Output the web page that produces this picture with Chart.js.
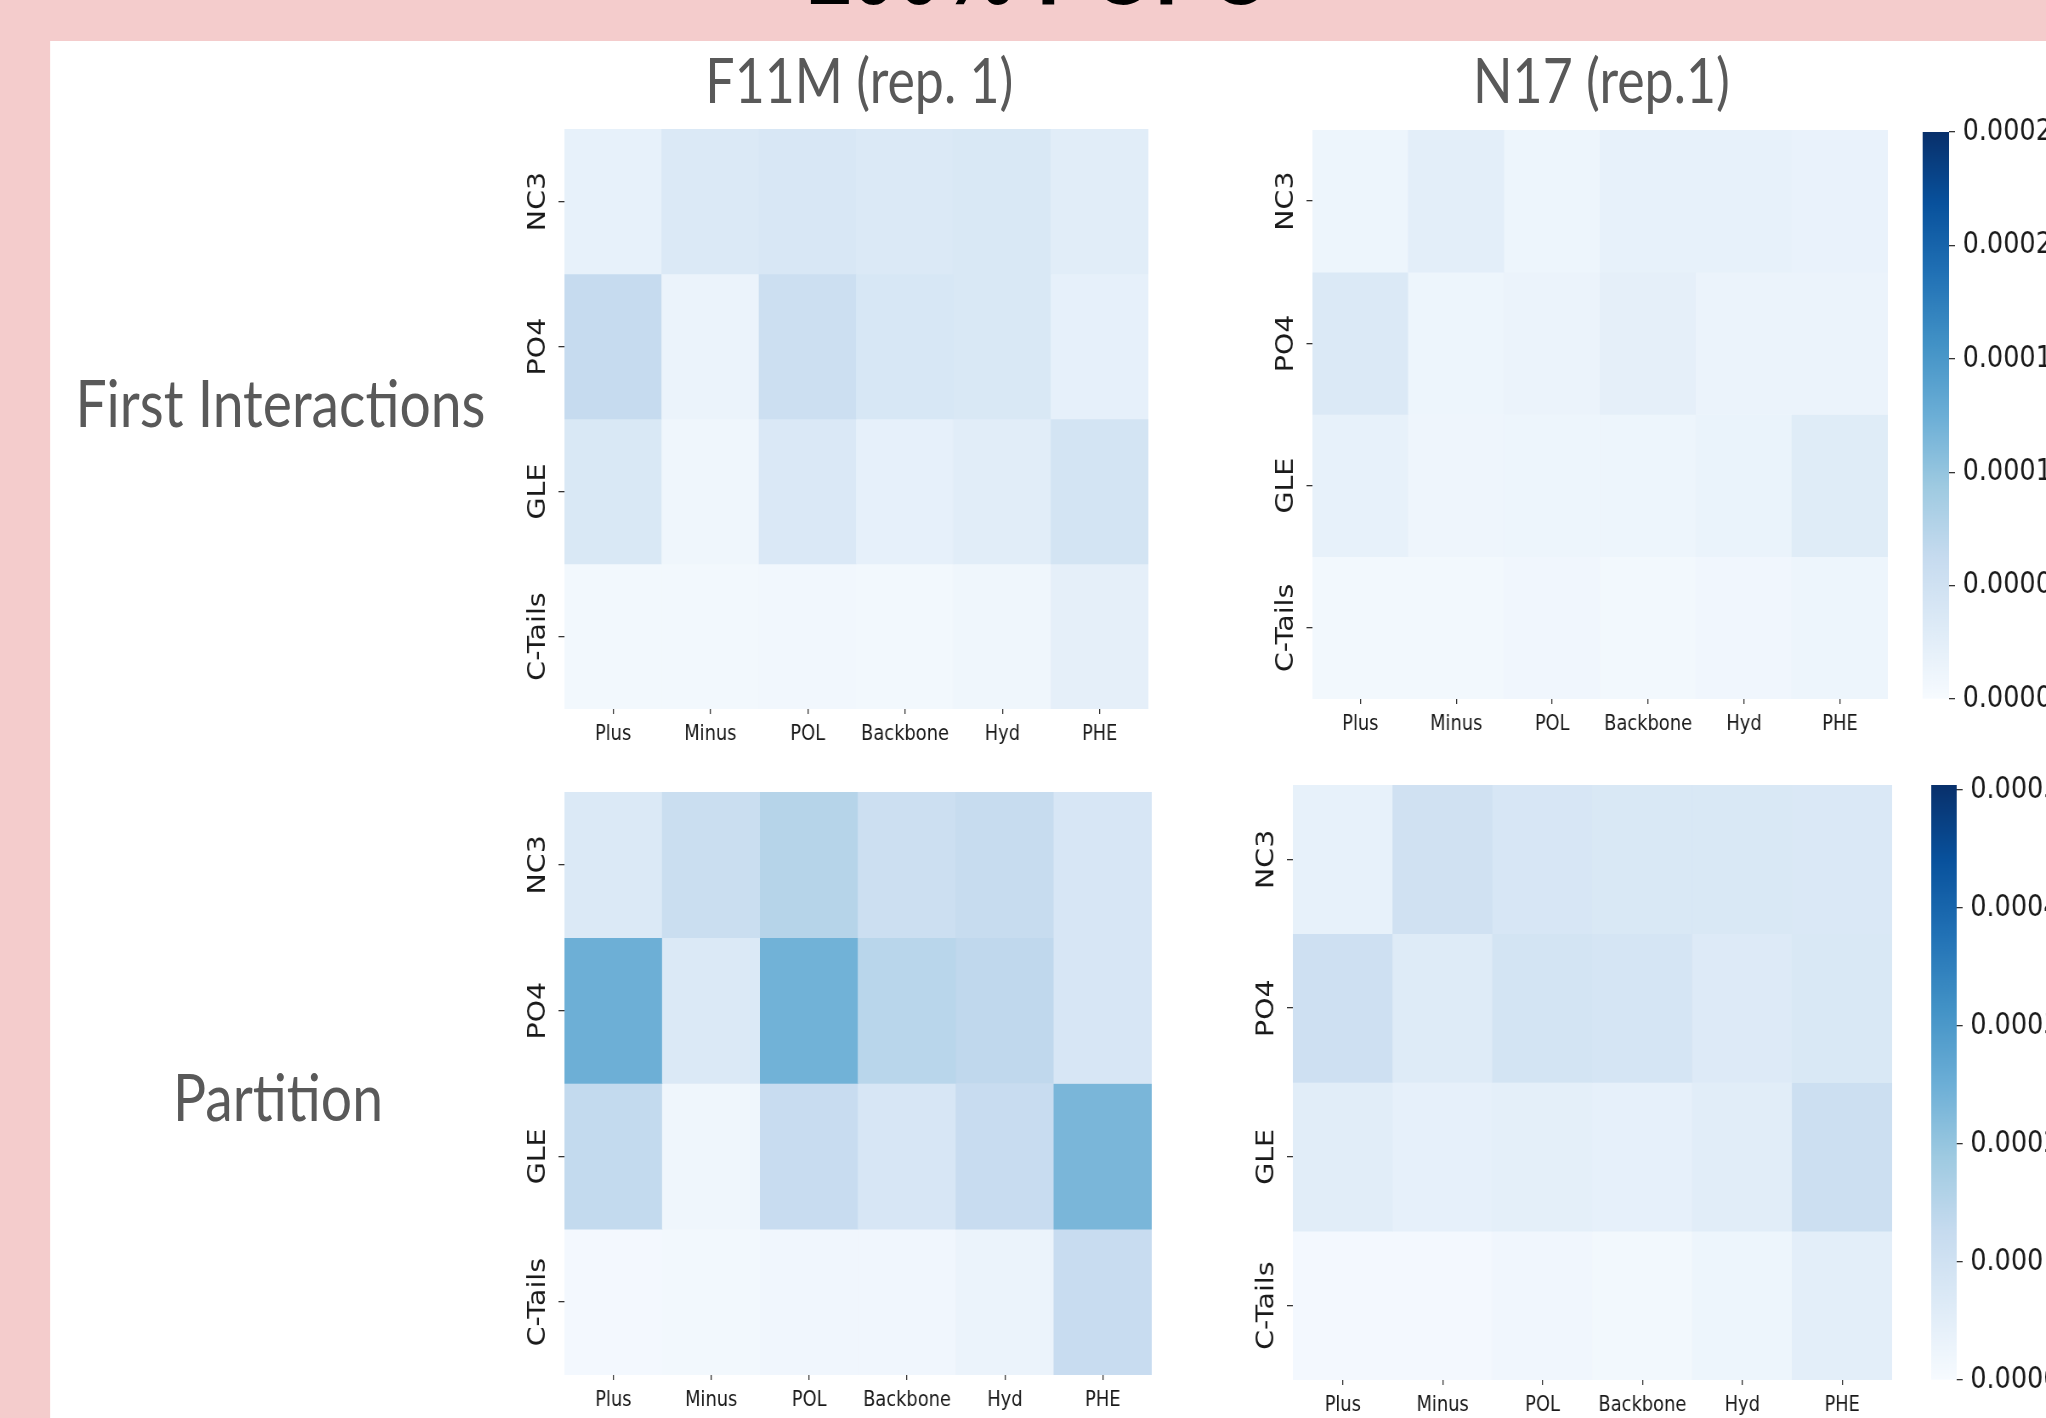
<!DOCTYPE html>
<html>
<head>
<meta charset="utf-8">
<title>100% POPC – contact heatmaps</title>
<script src="https://cdn.jsdelivr.net/npm/chart.js@4.4.1/dist/chart.umd.min.js"></script>
<style>
  html, body { margin: 0; padding: 0; width: 2046px; height: 1418px; overflow: hidden; background: #f4cccc; }
  /* the whole slide is laid out on a wider stage and squeezed horizontally */
  #stage { position: absolute; left: 0; top: 0; width: 2408px; height: 1418px; transform: scaleX(0.85); transform-origin: 0 0; }
  #panel { position: absolute; left: 59px; top: 41px; right: 0; bottom: 0; background: #ffffff; }
  #stage svg { position: absolute; left: 0; top: 0; }
  #stage canvas { position: absolute; }
</style>
</head>
<body>
<div id="stage">
  <div id="panel"></div>
  <svg width="2408" height="1418">
    <text x="1220" y="4" text-anchor="middle" font-family="Liberation Sans, Arial, sans-serif" font-weight="bold" font-size="96" fill="#000">100% POPC</text>
    <text x="1011" y="103" text-anchor="middle" font-family="Lato, 'Open Sans', sans-serif" font-size="61" fill="#595959">F11M (rep. 1)</text>
    <text x="1884" y="103" text-anchor="middle" font-family="Lato, 'Open Sans', sans-serif" font-size="61" fill="#595959">N17 (rep.1)</text>
    <text x="330" y="427" text-anchor="middle" font-family="Lato, 'Open Sans', sans-serif" font-size="65" fill="#595959">First Interactions</text>
    <text x="327" y="1121" text-anchor="middle" font-family="Lato, 'Open Sans', sans-serif" font-size="65" fill="#595959">Partition</text>
  </svg>
  <canvas id="hmF11MFirst"></canvas>
  <canvas id="hmN17First"></canvas>
  <canvas id="cbFirst"></canvas>
  <canvas id="hmF11MPartition"></canvas>
  <canvas id="hmN17Partition"></canvas>
  <canvas id="cbPartition"></canvas>
</div>
<script>
// ---- data -------------------------------------------------------------
const ROWS = ['NC3', 'PO4', 'GLE', 'C-Tails'];
const COLS = ['Plus', 'Minus', 'POL', 'Backbone', 'Hyd', 'PHE'];

// first-interaction frequencies (rows = lipid bead, cols = residue class)
const F11M_FIRST = [
  [1.95e-5, 3.5e-5, 3.9e-5, 3.5e-5, 3.75e-5, 2.75e-5],
  [6.25e-5, 1.5e-5, 5.5e-5, 4.0e-5, 3.75e-5, 2.1e-5],
  [3.75e-5, 1.0e-5, 3.7e-5, 2.1e-5, 2.75e-5, 4.5e-5],
  [0.6e-5, 0.6e-5, 0.75e-5, 0.6e-5, 1.0e-5, 2.25e-5]
];
const N17_FIRST = [
  [1.2e-5, 2.5e-5, 1.25e-5, 1.95e-5, 1.95e-5, 1.75e-5],
  [3.5e-5, 1.25e-5, 1.5e-5, 2.25e-5, 1.5e-5, 1.5e-5],
  [2.0e-5, 1.1e-5, 1.25e-5, 1.25e-5, 1.6e-5, 3.0e-5],
  [0.6e-5, 0.6e-5, 0.9e-5, 0.6e-5, 0.9e-5, 1.25e-5]
];

// partition frequencies
const F11M_PARTITION = [
  [7.1e-5, 11.6e-5, 15.1e-5, 11.1e-5, 12.3e-5, 8.1e-5],
  [25.0e-5, 7.1e-5, 24.4e-5, 14.6e-5, 13.6e-5, 8.1e-5],
  [13.1e-5, 2.0e-5, 12.1e-5, 8.1e-5, 12.1e-5, 23.4e-5],
  [1.0e-5, 1.3e-5, 1.8e-5, 1.8e-5, 3.0e-5, 12.1e-5]
];
const N17_PARTITION = [
  [4.0e-5, 10.1e-5, 8.1e-5, 7.6e-5, 7.6e-5, 7.3e-5],
  [10.6e-5, 6.3e-5, 9.1e-5, 8.6e-5, 6.6e-5, 7.6e-5],
  [5.5e-5, 4.3e-5, 4.8e-5, 4.3e-5, 5.5e-5, 11.1e-5],
  [1.0e-5, 1.0e-5, 1.8e-5, 1.3e-5, 2.5e-5, 5.0e-5]
];

// colour scale ranges and colorbar ticks
const FIRST_RANGE = [0, 0.00025];
const FIRST_TICKS = [0, 0.00005, 0.0001, 0.00015, 0.0002, 0.00025];
const FIRST_TICK_LABELS = ['0.00000', '0.00005', '0.00010', '0.00015', '0.00020', '0.00025'];
const PARTITION_RANGE = [0, 0.000504];
const PARTITION_TICKS = [0, 0.0001, 0.0002, 0.0003, 0.0004, 0.0005];
const PARTITION_TICK_LABELS = ['0.0000', '0.0001', '0.0002', '0.0003', '0.0004', '0.0005'];

// ---- layout (stage coordinates) -----------------------------------------
const LAYOUT = {
  f11mFirst:     { left: 664,  top: 129, right: 1351, bottom: 709 },
  n17First:      { left: 1544, top: 130, right: 2221, bottom: 699 },
  cbFirst:       { left: 2262, top: 132, right: 2293, bottom: 699 },
  f11mPartition: { left: 664,  top: 792, right: 1355, bottom: 1375 },
  n17Partition:  { left: 1521, top: 785, right: 2226, bottom: 1380 },
  cbPartition:   { left: 2272, top: 785, right: 2302, bottom: 1380 }
};

// ---- styling --------------------------------------------------------------
const BLUES = ['#f7fbff', '#deebf7', '#c6dbef', '#9ecae1', '#6baed6', '#4292c6', '#2171b5', '#08519c', '#08306b'];
const TICK_COLOR = '#333333';
const LABEL_COLOR = '#1a1a1a';
const FONT = "'DejaVu Sans', sans-serif";
const Y_AXIS_W = 62, X_AXIS_H = 48, RIGHT_PAD = 6;
const Y_TICK_LEN = 7, X_TICK_LEN = 5;
const Y_LABEL_SIZE = 28.5, X_LABEL_SIZE = 21, CB_LABEL_SIZE = 30;
const Y_LABEL_OFFSET = 30;  // distance from plot edge to the centre of the rotated labels
const CB_AXIS_W = 150, CB_PAD = 20;

Chart.defaults.font.family = FONT;
Chart.defaults.color = LABEL_COLOR;

const BLUES_RGB = BLUES.map(h => [1, 3, 5].map(k => parseInt(h.slice(k, k + 2), 16)));
function blues(t) {
  t = Math.max(0, Math.min(1, t));
  const p = t * (BLUES_RGB.length - 1);
  const i = Math.min(Math.floor(p), BLUES_RGB.length - 2);
  const f = p - i;
  const a = BLUES_RGB[i], b = BLUES_RGB[i + 1];
  const c = a.map((v, k) => Math.round(v + (b[k] - v) * f));
  return `rgb(${c[0]},${c[1]},${c[2]})`;
}

function placeCanvas(id, left, top, width, height) {
  const c = document.getElementById(id);
  c.width = Math.round(width);
  c.height = Math.round(height);
  c.style.left = left + 'px';
  c.style.top = top + 'px';
  return c;
}

// rotated row labels are centred; work out the tick padding that puts them where wanted
const measure = document.createElement('canvas').getContext('2d');
measure.font = `${Y_LABEL_SIZE}px ${FONT}`;
const widestRow = Math.max(...ROWS.map(r => measure.measureText(r).width));
const Y_TICK_PAD = Y_LABEL_OFFSET - Y_TICK_LEN - widestRow / 2;

function heatmap(id, area, matrix, range) {
  const canvas = placeCanvas(id, area.left - Y_AXIS_W, area.top,
    (area.right - area.left) + Y_AXIS_W + RIGHT_PAD, (area.bottom - area.top) + X_AXIS_H);
  const span = range[1] - range[0];
  const datasets = ROWS.map((row, i) => ({
    label: row,
    data: COLS.map((col, j) => ({ x: col, y: [i, i + 1], v: matrix[i][j] })),
    backgroundColor: ctx => blues((ctx.raw.v - range[0]) / span),
    borderWidth: 0,
    barPercentage: 1,
    categoryPercentage: 1,
    grouped: false
  }));
  return new Chart(canvas, {
    type: 'bar',
    data: { labels: COLS, datasets },
    options: {
      responsive: false,
      animation: false,
      devicePixelRatio: 1,
      layout: { padding: { left: 0, right: RIGHT_PAD, top: 0, bottom: 0 } },
      plugins: { legend: { display: false }, tooltip: { enabled: false } },
      scales: {
        x: {
          type: 'category',
          offset: true,
          grid: { offset: false, drawOnChartArea: false, tickLength: X_TICK_LEN, color: TICK_COLOR, lineWidth: 1.3 },
          border: { display: false },
          ticks: { font: { size: X_LABEL_SIZE }, color: LABEL_COLOR, padding: 8, maxRotation: 0, autoSkip: false },
          afterFit: s => { s.height = X_AXIS_H; s.paddingLeft = 0; s.paddingRight = 0; }
        },
        y: {
          type: 'linear',
          min: 0,
          max: ROWS.length,
          reverse: true,
          grid: { drawOnChartArea: false, tickLength: Y_TICK_LEN, color: TICK_COLOR, lineWidth: 1.3 },
          border: { display: false },
          afterBuildTicks: s => { s.ticks = ROWS.map((_, i) => ({ value: i + 0.5 })); },
          ticks: {
            font: { size: Y_LABEL_SIZE },
            color: LABEL_COLOR,
            minRotation: 90,
            maxRotation: 90,
            crossAlign: 'center',
            padding: Y_TICK_PAD,
            autoSkip: false,
            callback: v => ROWS[Math.floor(v)]
          },
          afterFit: s => { s.width = Y_AXIS_W; s.paddingTop = 0; s.paddingBottom = 0; }
        }
      }
    }
  });
}

function colorbar(id, bar, range, ticks, labels) {
  const canvas = placeCanvas(id, bar.left, bar.top - CB_PAD,
    (bar.right - bar.left) + CB_AXIS_W, (bar.bottom - bar.top) + 2 * CB_PAD);
  return new Chart(canvas, {
    type: 'bar',
    data: {
      labels: [''],
      datasets: [{
        data: [range],
        backgroundColor: ctx => {
          const a = ctx.chart.chartArea;
          if (!a) return BLUES[0];
          const g = ctx.chart.ctx.createLinearGradient(0, a.bottom, 0, a.top);
          BLUES.forEach((c, k) => g.addColorStop(k / (BLUES.length - 1), c));
          return g;
        },
        borderWidth: 0,
        barPercentage: 1,
        categoryPercentage: 1
      }]
    },
    options: {
      responsive: false,
      animation: false,
      devicePixelRatio: 1,
      layout: { padding: { left: 0, right: 0, top: CB_PAD, bottom: CB_PAD } },
      plugins: { legend: { display: false }, tooltip: { enabled: false } },
      scales: {
        x: { display: false },
        y: {
          position: 'right',
          min: range[0],
          max: range[1],
          grid: { drawOnChartArea: false, tickLength: 7, color: TICK_COLOR, lineWidth: 1.3 },
          border: { display: false },
          afterBuildTicks: s => { s.ticks = ticks.map(v => ({ value: v })); },
          ticks: {
            font: { size: CB_LABEL_SIZE },
            color: LABEL_COLOR,
            padding: 9,
            autoSkip: false,
            callback: (v, i) => labels[i]
          },
          afterFit: s => { s.width = CB_AXIS_W; s.paddingTop = 0; s.paddingBottom = 0; }
        }
      }
    }
  });
}

heatmap('hmF11MFirst', LAYOUT.f11mFirst, F11M_FIRST, FIRST_RANGE);
heatmap('hmN17First', LAYOUT.n17First, N17_FIRST, FIRST_RANGE);
colorbar('cbFirst', LAYOUT.cbFirst, FIRST_RANGE, FIRST_TICKS, FIRST_TICK_LABELS);
heatmap('hmF11MPartition', LAYOUT.f11mPartition, F11M_PARTITION, PARTITION_RANGE);
heatmap('hmN17Partition', LAYOUT.n17Partition, N17_PARTITION, PARTITION_RANGE);
colorbar('cbPartition', LAYOUT.cbPartition, PARTITION_RANGE, PARTITION_TICKS, PARTITION_TICK_LABELS);
</script>
</body>
</html>
